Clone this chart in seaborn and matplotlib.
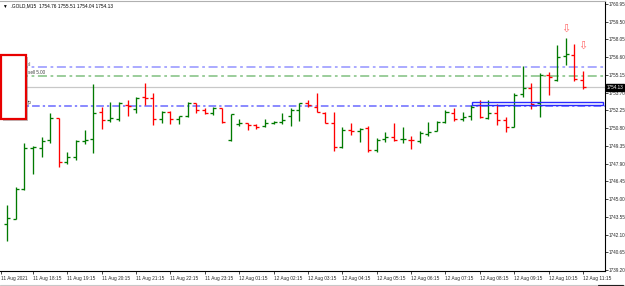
import matplotlib
matplotlib.use("Agg")
import matplotlib.pyplot as plt
import matplotlib.patheffects as pe
from matplotlib.patches import Rectangle
from matplotlib.lines import Line2D
import numpy as np
import seaborn as sns

# .GOLD M15 bars, 11 Aug 17:30 .. 12 Aug 11:15
opens = [1742.96, 1743.37, 1745.82, 1749.18, 1749.18, 1749.83, 1751.63, 1748.03, 1748.44, 1749.75,
         1749.91, 1752.12, 1751.46, 1751.55, 1752.69, 1752.36, 1753.35, 1753.26, 1751.55, 1752.12,
         1751.55, 1751.79, 1752.86, 1752.28, 1752.04, 1752.45, 1749.83, 1751.14, 1751.22, 1751.06,
         1750.97, 1751.22, 1751.30, 1751.79, 1752.28, 1752.86, 1752.53, 1752.04, 1751.22, 1749.26,
         1750.65, 1750.57, 1750.81, 1749.01, 1749.91, 1750.07, 1749.91, 1749.83, 1749.75, 1750.32,
         1750.57, 1751.30, 1752.04, 1751.55, 1751.79, 1752.69, 1751.63, 1752.04, 1751.46, 1750.89,
         1753.59, 1754.08, 1752.86, 1755.14, 1754.74, 1756.70, 1756.78, 1754.76]
highs = [1744.51, 1745.99, 1749.58, 1749.34, 1750.07, 1752.04, 1751.63, 1748.85, 1749.83, 1750.65,
         1754.41, 1752.53, 1752.94, 1752.94, 1753.10, 1753.35, 1754.49, 1753.67, 1752.20, 1752.20,
         1751.79, 1752.94, 1752.86, 1752.45, 1752.53, 1752.45, 1751.96, 1751.55, 1751.22, 1751.14,
         1751.55, 1751.38, 1752.04, 1752.45, 1752.86, 1753.10, 1753.67, 1752.12, 1752.12, 1750.89,
         1751.22, 1750.81, 1750.97, 1749.99, 1750.48, 1751.22, 1750.89, 1750.16, 1750.57, 1751.30,
         1751.38, 1752.28, 1752.45, 1752.12, 1752.69, 1753.10, 1753.10, 1752.77, 1751.71, 1753.67,
         1755.88, 1754.49, 1755.31, 1755.39, 1757.60, 1758.17, 1757.68, 1755.51]
lows = [1741.57, 1743.37, 1745.74, 1747.05, 1748.44, 1749.58, 1747.62, 1747.87, 1748.19, 1749.50,
        1748.77, 1750.73, 1751.30, 1751.38, 1751.79, 1752.04, 1752.69, 1751.06, 1751.22, 1751.14,
        1751.14, 1751.71, 1752.04, 1751.96, 1751.87, 1751.22, 1749.75, 1750.97, 1750.65, 1750.73,
        1750.89, 1751.14, 1751.14, 1750.97, 1751.38, 1752.53, 1752.12, 1751.22, 1748.93, 1749.18,
        1750.24, 1749.67, 1748.85, 1748.85, 1749.67, 1749.75, 1749.58, 1749.09, 1749.58, 1750.16,
        1750.57, 1751.22, 1751.38, 1751.38, 1751.46, 1751.63, 1751.55, 1751.06, 1750.48, 1750.89,
        1753.35, 1752.36, 1751.71, 1753.51, 1754.65, 1755.96, 1754.65, 1754.04]
closes = [1743.45, 1745.82, 1749.18, 1749.26, 1749.75, 1751.63, 1748.03, 1748.44, 1749.75, 1749.83,
          1752.04, 1751.46, 1751.63, 1752.86, 1752.61, 1753.26, 1753.26, 1751.55, 1752.12, 1751.55,
          1751.79, 1752.86, 1752.28, 1752.04, 1752.45, 1751.30, 1751.96, 1751.18, 1751.06, 1750.89,
          1751.22, 1751.30, 1751.46, 1752.28, 1752.86, 1752.69, 1752.12, 1751.22, 1749.26, 1750.65,
          1750.57, 1750.73, 1749.01, 1749.83, 1750.07, 1749.83, 1749.95, 1749.79, 1750.40, 1750.48,
          1751.30, 1752.12, 1751.55, 1751.71, 1752.53, 1751.71, 1752.04, 1751.46, 1750.89, 1753.51,
          1754.08, 1752.77, 1755.14, 1754.98, 1756.62, 1756.86, 1754.82, 1754.13]

time_bars = [3, 7, 11, 15, 19, 23, 27, 31, 35, 39, 43, 47, 51, 55, 59, 63, 67]
time_labels = ["11 Aug 18:15", "11 Aug 19:15", "11 Aug 20:15", "11 Aug 21:15", "11 Aug 22:15",
               "11 Aug 23:15", "12 Aug 01:15", "12 Aug 02:15", "12 Aug 03:15", "12 Aug 04:15",
               "12 Aug 05:15", "12 Aug 06:15", "12 Aug 07:15", "12 Aug 08:15", "12 Aug 09:15",
               "12 Aug 10:15", "12 Aug 11:15"]
price_ticks = [1739.20, 1740.65, 1742.10, 1743.55, 1745.00, 1746.45, 1747.90, 1749.35,
               1750.80, 1752.25, 1753.70, 1755.15, 1756.60, 1758.05, 1759.50, 1760.95]

sl_level = 1755.80
sell_level = 1755.10
tp_level = 1752.57
bid = 1754.13
fractal_bars = [65, 67]
fractal_prices = [1758.95, 1757.56]

sns.set_style("white")
plt.rcParams["font.family"] = ["Liberation Sans", "DejaVu Sans"]

fig = plt.figure(figsize=(6.25, 2.86), dpi=100)
ax = fig.add_axes([0, 15 / 286, 605 / 625, 270 / 286])

idx = np.arange(len(opens))
o = np.array(opens); c = np.array(closes)
cols = np.where(c >= o, "#007a00", "#ff0000")

# level lines
dd = (0, (5, 2, 1.5, 2))
ax.axhline(sl_level, color="#a4a4ff", lw=1.3, ls=dd, zorder=1)
ax.axhline(sell_level, color="#93c993", lw=1.3, ls=dd, zorder=1)
ax.axhline(bid, color="#c8c8c8", lw=0.9, zorder=1)
ax.axhline(tp_level, color="#6a6aff", lw=1.1, ls=dd, zorder=1)

# OHLC bars
ax.vlines(idx, lows, highs, colors=cols, lw=0.95, zorder=3)
ax.hlines(opens, idx - 0.35, idx, colors=cols, lw=0.95, zorder=3)
ax.hlines(closes, idx, idx + 0.35, colors=cols, lw=0.95, zorder=3)

# fractal arrows
for b, p in zip(fractal_bars, fractal_prices):
    ax.text(b, p, "\u21e9", color="#ff6868", fontsize=8, ha="center", va="center",
            family="DejaVu Sans", zorder=4)

# blue rectangle near the tp
ax.add_patch(Rectangle((54.08, 1752.69), 15.2, 0.25, fill=False, ec="#2a2aff", lw=1.0, zorder=4))

# red panel at left
panel = Rectangle((-0.72, 1751.55), 2.91, 5.23, fc="white", ec="#e80000", lw=1.6, zorder=5)
panel.set_path_effects([pe.withSimplePatchShadow(offset=(1.5, -1.5), shadow_rgbFace="#808080", alpha=0.5)])
ax.add_patch(panel)

lbl = dict(fontsize=3.3, color="#404040", ha="left", va="center", zorder=6)
ax.text(2.42, 1756.00, "sl", **lbl)
ax.text(2.42, 1755.35, "sell 5.00", **lbl)
ax.text(2.42, 1752.90, "tp", **lbl)

ax.set_xlim(-0.838, 69.56)
ax.set_ylim(1739.117, 1761.195)

ax.yaxis.tick_right()
ax.set_yticks(price_ticks)
ax.set_yticklabels([f"{v:.2f}" for v in price_ticks])
ax.tick_params(axis="y", length=2, width=0.6, pad=1, labelsize=3.3, direction="out", right=True, left=False)

ax.set_xticks([-0.72] + time_bars)
ax.set_xticklabels(["11 Aug 2021"] + time_labels, ha="left")
ax.tick_params(axis="x", length=2.5, width=0.6, pad=0.8, labelsize=3.4, direction="out", bottom=True)

ax.spines["left"].set_visible(False)
ax.spines["top"].set_color("#b0b0b0")
ax.spines["top"].set_linewidth(0.8)
for s in ("right", "bottom"):
    ax.spines[s].set_color("black")
    ax.spines[s].set_linewidth(0.8)

ax.text(1.003, bid, "1754.13", transform=ax.get_yaxis_transform(), color="white", fontsize=3.3,
        ha="left", va="center", bbox=dict(boxstyle="square,pad=0.2", fc="black", ec="black"), zorder=7)

fig.text(3 / 625, 1 - 6 / 286, "\u25bc  .GOLD,M15  1754.76 1755.51 1754.04 1754.13",
         fontsize=3.4, ha="left", va="center", color="black")

yb = 1 - 284.5 / 286
fig.add_artist(Line2D([0, 1], [yb, yb], color="#c8c8c8", lw=0.8, transform=fig.transFigure))
fig.add_artist(Line2D([598 / 625, 623 / 625], [yb, yb], color="#202020", lw=0.8, transform=fig.transFigure))

fig.savefig("out.png", dpi=100)
